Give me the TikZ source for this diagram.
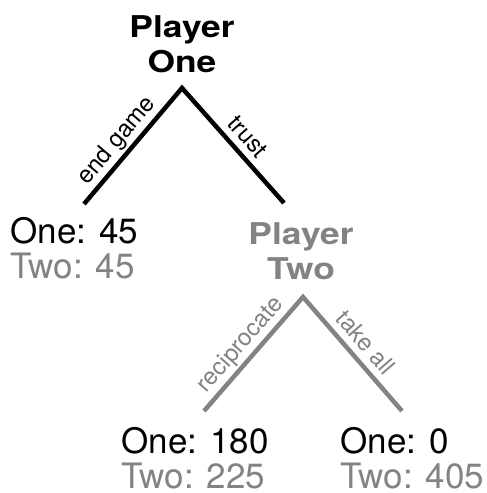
\documentclass[tikz,border=0pt]{standalone}
\usepackage{fontspec}
\setmainfont{TeX Gyre Heros}
\newfontfamily\titlefont[FakeStretch=1.18]{TeX Gyre Heros}
\definecolor{ptwo}{RGB}{131,131,131}
\begin{document}
\begin{tikzpicture}[x=1pt,y=-1pt,
  player/.style={align=center,inner sep=0pt,anchor=base,font=\titlefont\bfseries\fontsize{30}{35}\selectfont},
  payoff/.style={align=left,inner sep=0pt,anchor=base west,font=\fontsize{35}{35}\selectfont},
  branch/.style={line width=4.5pt,line join=miter,line cap=butt},
  move/.style={sloped,above,inner sep=4.5pt,text depth=0.25em,font=\fontsize{24}{24}\selectfont}]
\useasboundingbox (0,0) rectangle (487,493);
% nodes
\node[player] (p1) at (182,72) {Player\\One};
\node[player,text=ptwo] (p2) at (301,279) {Player\\Two};
\node[payoff] (o1) at (10.5,278) {One: 45\\\textcolor{ptwo}{Two: 45}};
\node[payoff] (o2) at (121.5,488) {One: 180\\\textcolor{ptwo}{Two: 225}};
\node[payoff] (o3) at (340.5,488) {One: 0\\\textcolor{ptwo}{Two: 405}};
% branch points
\coordinate (a1) at (182,88);
\coordinate (e1) at (84,204);
\coordinate (e2) at (284,203);
\coordinate (a2) at (303,297);
\coordinate (e3) at (204,411);
\coordinate (e4) at (402,411);
% branches
\draw[branch] (e1) -- node[move,pos=0.46] (l1) {end game} (a1)
  -- node[move,pos=0.52] (l2) {trust} (e2);
\draw[branch,draw=ptwo] (e3) -- node[move,pos=0.49,text=ptwo] (l3) {reciprocate} (a2)
  -- node[move,pos=0.5,text=ptwo] (l4) {take all} (e4);
\end{tikzpicture}
\end{document}
